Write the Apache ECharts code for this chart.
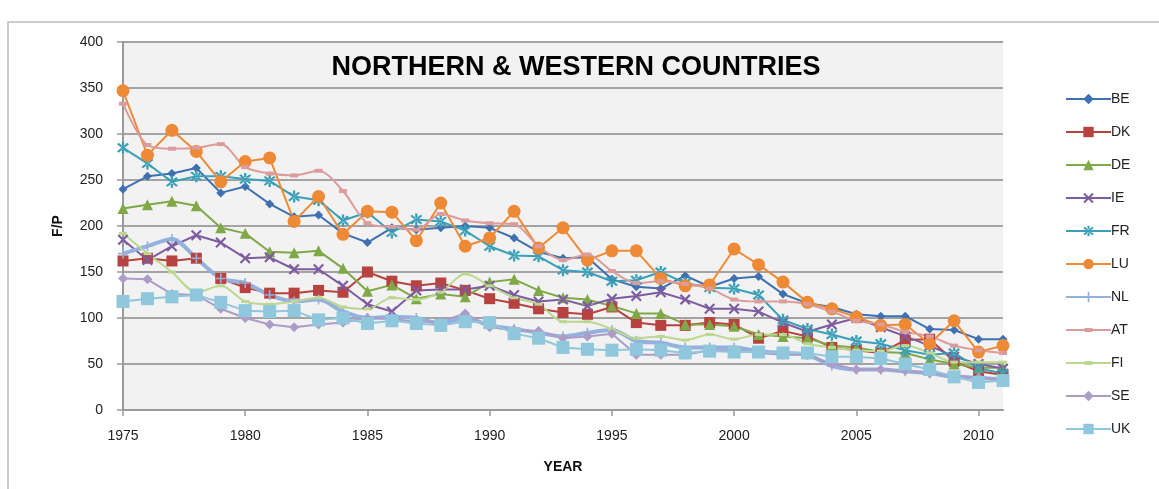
<!DOCTYPE html>
<html>
<head>
<meta charset="utf-8">
<script src="https://cdn.jsdelivr.net/npm/echarts@6/dist/echarts.min.js"></script>
<style>
  html, body { margin: 0; padding: 0; background: #fff; }
  #chart { width: 1159px; height: 489px; }
</style>
</head>
<body>
<div id="chart"></div>
<script>
// years 1975 - 2011
var years = [];
for (var y = 1975; y <= 2011; y++) years.push(String(y));

var BE = [240,254,257,263,236,243,224,210,212,192,182,198,196,198,200,198,187,172,165,166,142,134,132,146,134,143,145,126,116,112,104,102,102,88,87,77,77];
var DK = [162,165,162,165,143,133,127,127,130,128,150,140,135,138,130,121,116,110,106,104,112,95,92,92,95,93,78,86,80,68,65,62,76,77,53,42,38];
var DE = [219,223,227,222,198,192,172,171,173,154,129,136,121,126,123,139,142,130,122,120,113,105,105,93,93,91,82,80,78,70,68,63,62,55,50,46,46];
var IE = [185,163,178,190,182,165,166,153,153,135,115,107,130,131,131,135,125,118,120,113,121,124,128,120,110,110,107,95,85,93,100,90,80,70,58,50,45];
var FR = [285,268,248,254,254,251,249,232,228,206,215,193,207,205,195,178,168,167,152,150,140,141,150,138,133,132,125,98,88,82,75,72,65,60,62,45,40];
var LU = [347,277,304,281,248,270,274,205,232,191,216,215,184,225,178,187,216,176,198,163,173,173,143,135,136,175,158,139,117,110,101,92,93,72,97,63,70];
var NL = [170,178,186,165,143,138,125,118,120,107,100,101,100,94,100,92,88,84,80,84,87,75,73,68,68,68,64,62,60,48,44,44,42,40,36,35,33];
var AT = [333,288,284,285,289,264,257,255,260,238,203,199,196,213,206,203,202,178,163,169,151,138,140,137,132,120,118,118,115,107,97,93,85,80,70,65,62];
var FI = [192,170,150,128,135,118,115,118,122,112,110,122,120,128,148,135,122,115,96,96,88,78,80,76,82,77,82,82,72,68,65,64,70,62,52,52,52];
var SE = [143,142,126,125,110,100,93,90,93,95,100,99,96,96,105,90,87,86,78,80,83,60,60,60,65,65,62,60,60,50,44,44,43,40,38,35,32];
var UK = [118,121,123,125,117,108,107,108,98,100,94,97,94,92,96,95,83,78,68,66,65,66,65,62,64,63,63,62,62,58,58,56,50,44,36,30,32];

var xShape = 'path://M2.97,4.11L4.11,2.97L-2.97,-4.11L-4.11,-2.97Z M4.11,-2.97L2.97,-4.11L-4.11,2.97L-2.97,4.11Z';
var starShape = 'path://M2.97,4.11L4.11,2.97L-2.97,-4.11L-4.11,-2.97Z M4.11,-2.97L2.97,-4.11L-4.11,2.97L-2.97,4.11Z M-0.8,-5L0.8,-5L0.8,5L-0.8,5Z';
var plusShape = 'path://M-0.8,-5L0.8,-5L0.8,-0.8L5,-0.8L5,0.8L0.8,0.8L0.8,5L-0.8,5L-0.8,0.8L-5,0.8L-5,-0.8L-0.8,-0.8Z';
var dashShape = 'path://M-5,-1.4L5,-1.4L5,1.4L-5,1.4Z';
// legend icon: thin line with a small dash in the middle
var dashIcon = 'path://M0,1L45,1L45,3L0,3Z M18.5,0L26.5,0L26.5,4L18.5,4Z';

function mk(name, data, color, symbol, size, width, smooth) {
    return {
        name: name,
        type: 'line',
        data: data,
        symbol: symbol,
        symbolSize: size,
        smooth: smooth || false,
        lineStyle: { color: color, width: width },
        itemStyle: { color: color },
        emphasis: { disabled: true }
    }
}

var series = [
    mk('BE', BE, '#3f70b1', 'diamond', 9, 2),
    mk('DK', DK, '#b8423f', 'rect', 11, 2),
    mk('DE', DE, '#7fa846', 'triangle', 11, 2),
    mk('IE', IE, '#7d5c9f', xShape, 11, 2),
    mk('FR', FR, '#3a9fb8', starShape, 12, 2),
    mk('LU', LU, '#ee8a36', 'circle', 13, 2),
    mk('NL', NL, '#94b0dd', plusShape, 10, 4, 0.3),
    mk('AT', AT, '#dc9c9c', dashShape, [8, 4], 2, 0.3),
    mk('FI', FI, '#bcd78f', dashShape, [8, 3], 2, 0.3),
    mk('SE', SE, '#ac9cc8', 'diamond', 10, 2),
    mk('UK', UK, '#8fc7dc', 'rect', 13, 2)
];

var legendData = series.map(function (s) {
    if (s.name === 'AT' || s.name === 'FI') {
        return { name: s.name, icon: dashIcon };
    }
    return { name: s.name };
});

var myChart = echarts.init(document.getElementById('chart'));
var option = {
    backgroundColor: '#fff',
    animation: false,
    textStyle: { fontFamily: 'Liberation Sans, Arial, sans-serif' },
    graphic: [
        {
            type: 'rect',
            shape: { x: 8, y: 22, width: 1170, height: 480 },
            style: { fill: 'none', stroke: '#bdbdbd', lineWidth: 1.5 },
            silent: true
        },
        {
            type: 'text',
            style: {
                x: 576, y: 68,
                text: 'NORTHERN & WESTERN COUNTRIES',
                font: 'bold 27px "Liberation Sans", Arial, sans-serif',
                fill: '#000',
                textAlign: 'center',
                textVerticalAlign: 'middle'
            },
            z: 10
        }
    ],
    grid: {
        left: 123,
        top: 42,
        right: 156,
        bottom: 79,
        show: true,
        backgroundColor: '#f2f2f2',
        borderWidth: 0
    },
    legend: {
        orient: 'vertical',
        left: 1060,
        top: 87,
        itemWidth: 45,
        itemHeight: 13,
        itemGap: 19,
        symbolKeepAspect: true,
        textStyle: { fontSize: 14, color: '#222', padding: [0, 0, 0, -5] },
        data: legendData
    },
    xAxis: {
        type: 'category',
        data: years,
        boundaryGap: false,
        name: 'YEAR',
        nameLocation: 'middle',
        nameGap: 50,
        nameTextStyle: { fontWeight: 'bold', fontSize: 14, color: '#111' },
        axisLine: { lineStyle: { color: '#9a9a9a', width: 2 } },
        axisTick: { interval: 4, length: 6, lineStyle: { color: '#9a9a9a', width: 1.5 } },
        axisLabel: { interval: 4, fontSize: 14, color: '#222', margin: 19 },
        splitLine: { show: false }
    },
    yAxis: {
        type: 'value',
        min: 0,
        max: 400,
        interval: 50,
        name: 'F/P',
        nameLocation: 'middle',
        nameGap: 58,
        nameRotate: 90,
        nameTextStyle: { fontWeight: 'bold', fontSize: 14, color: '#111' },
        axisLine: { show: true, lineStyle: { color: '#9a9a9a', width: 2 } },
        axisTick: { show: true, length: 6, lineStyle: { color: '#9a9a9a', width: 1.5 } },
        axisLabel: { fontSize: 14, color: '#222', margin: 20 },
        splitLine: { lineStyle: { color: '#a3a3a3', width: 2 } }
    },
    series: series
};
myChart.setOption(option);
</script>
</body>
</html>
